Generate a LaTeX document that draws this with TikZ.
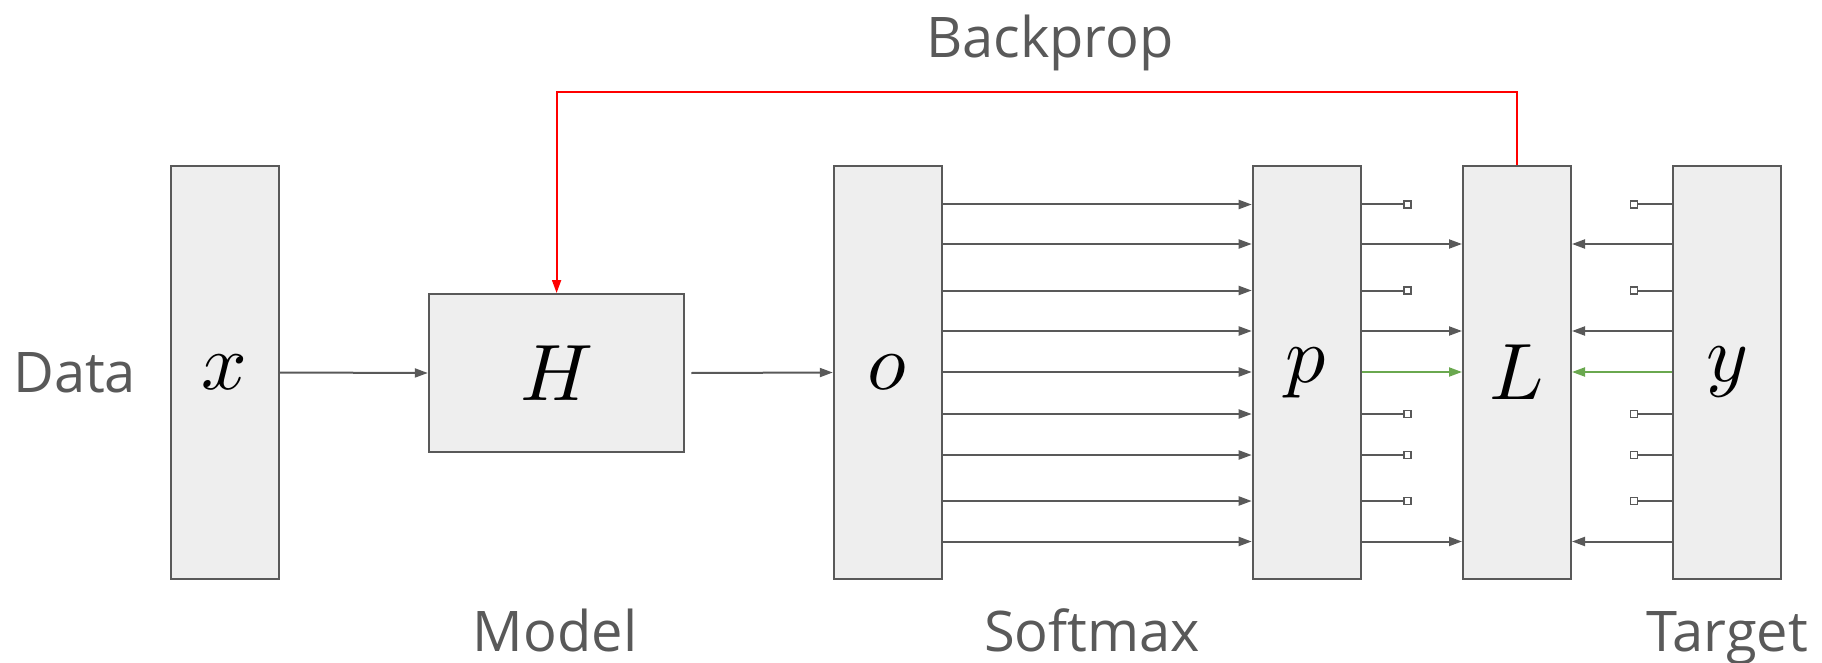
\documentclass[tikz,border=0pt]{standalone}
\usepackage{fontspec}
\usepackage{unicode-math}
\setmainfont{Open Sans}
\setmathfont{Latin Modern Math}
\usetikzlibrary{arrows.meta}
\definecolor{lc}{HTML}{595959}
\definecolor{bf}{HTML}{EEEEEE}
\definecolor{gr}{HTML}{6AA84F}
\definecolor{rd}{HTML}{FF0000}
\begin{document}
\begin{tikzpicture}[x=1pt,y=-1pt,
 blk/.style={draw=lc, fill=bf, line width=2pt, inner sep=0pt, font=\fontsize{80}{84}\selectfont},
 tall/.style={blk, minimum width=108pt, minimum height=413pt},
 arr/.style={draw=lc, line width=2pt, -{Triangle[length=13pt,width=9pt]}},
 garr/.style={arr, draw=gr, -{Triangle[length=13pt,width=9pt,color=gr]}},
 stub/.style={draw=lc, line width=2pt},
 sq/.style={draw=lc, fill=white, line width=1.8pt, minimum size=7pt, inner sep=0pt},
 lab/.style={text=lc, font=\fontsize{56}{60}\selectfont, inner sep=0pt}]
\useasboundingbox (0,0) rectangle (1822,663);
\node[tall] (x) at (224.8,372.5) {$x$};
\node[blk, minimum width=255.6pt, minimum height=158pt] (H) at (556.6,373) {$H$};
\node[tall] (o) at (887.8,372.5) {$o$};
\node[tall] (p) at (1306.7,372.5) {$p$};
\node[tall] (L) at (1517,372.5) {$L$};
\node[tall] (y) at (1727,372.5) {$y$};
\draw[arr] (x.east) -- (H.west);
\draw[arr] ([xshift=6pt]H.east) -- (o.west);
\foreach \yy in {204.5,244,290.5,331,372,414,455,501,541.5}
  \draw[arr] (o.east |- 0,\yy) -- (p.west |- 0,\yy);
\foreach \yy [count=\i] in {204.5,290.5,414,455,501} {
  \node[sq] (ps\i) at (1407.5,\yy) {};
  \draw[stub] (p.east |- 0,\yy) -- (ps\i.west);
  \node[sq] (ys\i) at (1634,\yy) {};
  \draw[stub] (y.west |- 0,\yy) -- (ys\i.east);
}
\foreach \yy in {244,331,541.5} {
  \draw[arr] (p.east |- 0,\yy) -- (L.west |- 0,\yy);
  \draw[arr] (y.west |- 0,\yy) -- (L.east |- 0,\yy);
}
\draw[garr] (p.east |- 0,372) -- (L.west |- 0,372);
\draw[garr] (y.west |- 0,372) -- (L.east |- 0,372);
\coordinate (bp) at (1517,91.8);
\draw[draw=rd, line width=1.8pt, -{Triangle[length=13pt,width=9pt,color=rd]}] (L.north) -- (bp) -| (H.north);
\node[lab, anchor=base] (tb) at (1050,58) {Backprop};
\node[lab, anchor=base west] (td) at (13,392.8) {Data};
\node[lab, anchor=base] (tm) at (555,651) {Model};
\node[lab, anchor=base] (ts) at (1092,651) {Softmax};
\node[lab, anchor=base] (tt) at (1727,651) {Target};
\end{tikzpicture}
\end{document}
